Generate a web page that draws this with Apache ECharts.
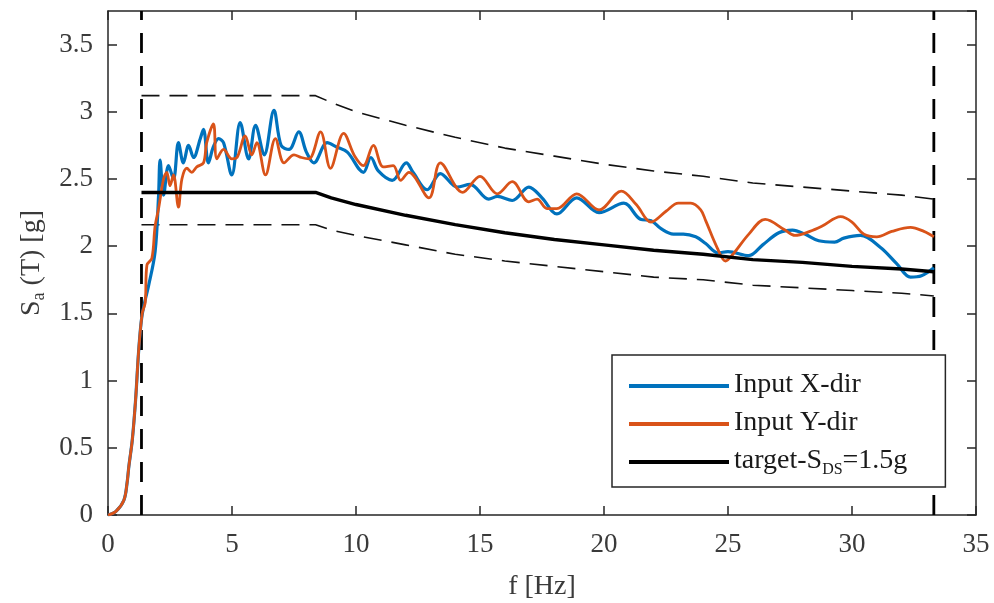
<!DOCTYPE html>
<html>
<head>
<meta charset="utf-8">
<script src="https://cdn.jsdelivr.net/npm/echarts@6/dist/echarts.min.js"></script>
<style>
html,body{margin:0;padding:0;background:#fff;}
#chart{width:994px;height:603px;}
</style>
</head>
<body>
<div id="chart"></div>
<script>
// ---- data ----
const xTicks = [0, 5, 10, 15, 20, 25, 30, 35];
const yTicks = [0, 0.5, 1, 1.5, 2, 2.5, 3, 3.5];

const freqX = [0,0.31,0.64,0.77,0.84,0.98,1.11,1.24,1.36,1.5,1.63,1.9,2.04,2.1,2.24,2.44,2.64,2.84,3.04,3.25,3.45,3.72,3.85,4.05,4.25,4.46,4.66,4.99,5.33,5.67,5.95,6.3,6.69,6.98,7.3,7.69,8.0,8.3,8.84,9.2,9.65,10.3,10.6,10.9,11.46,12.03,12.3,12.87,13.4,14.08,14.6,15.35,15.7,16.3,16.97,17.5,18.1,18.9,19.8,20.8,21.47,21.9,22.3,22.8,23.2,23.7,24.1,24.6,25.0,25.84,26.4,27.05,27.6,28.1,28.66,29.3,29.67,30.34,31.15,31.8,32.36,32.8,33.3];
const saX = [0,0.025,0.11,0.24,0.36,0.56,0.85,1.23,1.47,1.6,1.7,1.96,2.38,2.64,2.38,2.6,2.5,2.77,2.62,2.75,2.66,2.8,2.87,2.62,2.74,2.8,2.77,2.53,2.92,2.65,2.9,2.68,3.01,2.75,2.72,2.85,2.7,2.62,2.77,2.74,2.7,2.55,2.66,2.56,2.49,2.62,2.55,2.42,2.54,2.44,2.46,2.35,2.37,2.34,2.44,2.36,2.24,2.36,2.25,2.32,2.2,2.19,2.13,2.09,2.09,2.07,2.02,1.95,1.96,1.93,2.01,2.1,2.12,2.09,2.04,2.03,2.06,2.08,1.99,1.87,1.77,1.78,1.84];

const freqY = [0,0.31,0.64,0.77,0.84,0.98,1.11,1.24,1.38,1.5,1.57,1.77,1.9,2.04,2.24,2.37,2.5,2.64,2.84,2.98,3.18,3.38,3.58,3.85,3.98,4.25,4.39,4.66,4.99,5.2,5.53,5.8,6.0,6.35,6.75,7.1,7.5,7.8,8.1,8.57,8.97,9.5,9.95,10.3,10.7,11.1,11.5,11.8,12.13,12.94,13.4,14.3,15.0,15.7,16.3,16.97,17.3,17.7,18.1,18.9,19.8,20.7,21.3,21.9,22.5,23.0,23.5,23.9,24.1,24.56,24.9,25.2,25.84,26.5,27.3,27.7,28.3,28.8,29.54,30.0,30.48,31.0,31.6,32.36,32.9,33.3];
const saY = [0,0.025,0.11,0.24,0.36,0.56,0.85,1.23,1.5,1.58,1.86,1.91,2.15,2.28,2.5,2.55,2.45,2.53,2.29,2.5,2.58,2.55,2.59,2.62,2.77,2.91,2.65,2.72,2.65,2.66,2.82,2.68,2.77,2.53,2.8,2.62,2.68,2.66,2.65,2.85,2.58,2.84,2.67,2.6,2.75,2.59,2.6,2.49,2.55,2.36,2.62,2.4,2.52,2.39,2.48,2.33,2.35,2.28,2.28,2.39,2.27,2.41,2.31,2.18,2.26,2.32,2.32,2.27,2.19,1.99,1.89,1.94,2.09,2.2,2.12,2.08,2.11,2.15,2.22,2.18,2.09,2.07,2.11,2.14,2.11,2.07];

const targetFreq = [1.35,8.37,9,10,12,14,16,18,20,22,24,26,28,30,32,33.3];
const targetSa   = [2.4,2.4,2.36,2.31,2.23,2.16,2.10,2.05,2.01,1.97,1.94,1.90,1.88,1.85,1.83,1.81];
const upperSa    = [3.12,3.12,3.07,3.00,2.90,2.81,2.73,2.67,2.61,2.56,2.52,2.47,2.44,2.41,2.38,2.35];
const lowerSa    = [2.16,2.16,2.12,2.08,2.01,1.94,1.89,1.85,1.81,1.77,1.75,1.71,1.69,1.67,1.65,1.63];

const boundFreq = [1.35, 33.3];
const boundSa = [0, 3.75];

const names = ['Input X-dir', 'Input Y-dir', 'target-SDS=1.5g'];

// ---- build ----
const zip = (a, b) => a.map((v, i) => [v, b[i]]);
const FONT = '"Liberation Serif", "Times New Roman", serif';
const AX = '#262626';
const LBL = '#3a3a3a';

const chart = echarts.init(document.getElementById('chart'), null, {renderer: 'canvas'});

const baseAxis = {
  axisLine: {show: true, onZero: false, lineStyle: {color: AX, width: 1.5}},
  axisTick: {show: true, inside: true, length: 9, lineStyle: {color: AX, width: 1.5}},
  splitLine: {show: false}
};

const option = {
  backgroundColor: '#fff',
  animation: false,
  grid: {left: 108, right: 18, top: 11, bottom: 88, containLabel: false, outerBoundsMode: 'none'},
  xAxis: [
    Object.assign({}, baseAxis, {
      type: 'value', min: 0, max: 35, interval: 5, position: 'bottom',
      axisLabel: {show: true, margin: 16, fontFamily: FONT, fontSize: 27, color: LBL},
      name: 'f [Hz]', nameLocation: 'middle', nameGap: 58,
      nameTextStyle: {fontFamily: FONT, fontSize: 28, color: LBL}
    }),
    Object.assign({}, baseAxis, {
      type: 'value', min: 0, max: 35, interval: 5, position: 'top',
      axisLabel: {show: false}
    })
  ],
  yAxis: [
    Object.assign({}, baseAxis, {
      type: 'value', min: 0, max: 3.75, interval: 0.5, position: 'left',
      axisLabel: {show: true, margin: 15, fontFamily: FONT, fontSize: 27, color: LBL, showMaxLabel: false},
      name: '{s|S}{sub|a}{s| (T) [g]}', nameLocation: 'middle', nameGap: 53, nameRotate: 90,
      nameTextStyle: {
        fontFamily: FONT, fontSize: 28, color: LBL,
        rich: {
          s: {fontFamily: FONT, fontSize: 28, color: LBL, lineHeight: 34},
          sub: {fontFamily: FONT, fontSize: 18, color: LBL, verticalAlign: 'bottom', lineHeight: 10}
        }
      }
    }),
    Object.assign({}, baseAxis, {
      type: 'value', min: 0, max: 3.75, interval: 0.5, position: 'right',
      axisLabel: {show: false}
    })
  ],
  legend: {
    show: true,
    data: names,
    orient: 'vertical',
    left: 612, top: 355,
    icon: 'rect',
    itemWidth: 100, itemHeight: 4, itemGap: 10,
    padding: [16, 38, 9, 17],
    backgroundColor: '#fff',
    borderColor: AX, borderWidth: 1.5, borderRadius: 0,
    z: 10,
    formatter: function (n) {
      if (n === names[2]) return '{n|target-S}{sub|DS}{n|=1.5g}';
      return '{n|' + n + '}';
    },
    textStyle: {
      fontFamily: FONT, fontSize: 28, color: '#1a1a1a', height: 36,
      rich: {
        n: {fontFamily: FONT, fontSize: 28, color: '#1a1a1a', lineHeight: 34},
        sub: {fontFamily: FONT, fontSize: 16, color: '#1a1a1a', verticalAlign: 'bottom', lineHeight: 4}
      }
    }
  },
  series: [
    {
      name: 'upper', type: 'line', data: zip(targetFreq, upperSa), symbol: 'none', silent: true,
      lineStyle: {color: '#111', width: 1.6, type: [18, 10]}, z: 2
    },
    {
      name: 'lower', type: 'line', data: zip(targetFreq, lowerSa), symbol: 'none', silent: true,
      lineStyle: {color: '#111', width: 1.6, type: [18, 10]}, z: 2
    },
    {
      name: 'leftBound', type: 'line', data: zip([boundFreq[0], boundFreq[0]], boundSa), symbol: 'none', silent: true,
      lineStyle: {color: '#000', width: 2.8, type: [20, 13]}, z: 2
    },
    {
      name: 'rightBound', type: 'line', data: zip([boundFreq[1], boundFreq[1]], boundSa), symbol: 'none', silent: true,
      lineStyle: {color: '#000', width: 2.8, type: [20, 13]}, z: 2
    },
    {
      name: names[0], type: 'line', data: zip(freqX, saX), symbol: 'none', smooth: 0.35,
      itemStyle: {color: '#0072BD'}, lineStyle: {color: '#0072BD', width: 3.2}, z: 3
    },
    {
      name: names[1], type: 'line', data: zip(freqY, saY), symbol: 'none', smooth: 0.35,
      itemStyle: {color: '#D95319'}, lineStyle: {color: '#D95319', width: 2.8}, z: 4
    },
    {
      name: names[2], type: 'line', data: zip(targetFreq, targetSa), symbol: 'none',
      itemStyle: {color: '#000'}, lineStyle: {color: '#000', width: 3.4}, z: 5
    }
  ]
};
chart.setOption(option);
</script>
</body>
</html>
